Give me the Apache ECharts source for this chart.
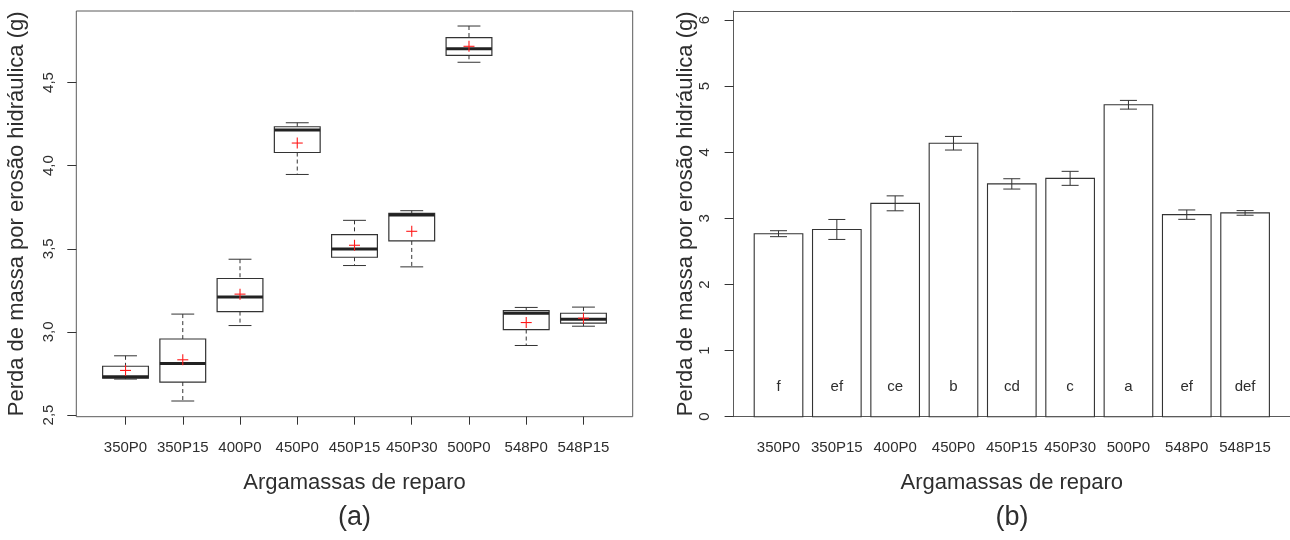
<!DOCTYPE html>
<html>
<head>
<meta charset="utf-8">
<script src="https://cdn.jsdelivr.net/npm/echarts@6/dist/echarts.min.js"></script>
<style>
  html, body { margin: 0; padding: 0; background: #fff; }
  #chart { width: 1290px; height: 540px; }
</style>
</head>
<body>
<div id="chart"></div>
<script>
// Repair mortars
const categories = ['350P0', '350P15', '400P0', '450P0', '450P15', '450P30', '500P0', '548P0', '548P15'];

// Box plot statistics (g)
const lowerWhisker = [2.716, 2.584, 3.038, 3.947, 3.399, 3.391, 4.622, 2.918, 3.034];
const firstQuartile = [2.722, 2.698, 3.122, 4.079, 3.449, 3.547, 4.664, 3.014, 3.053];
const medians = [2.730, 2.810, 3.209, 4.215, 3.499, 3.703, 4.704, 3.112, 3.076];
const thirdQuartile = [2.793, 2.957, 3.321, 4.234, 3.585, 3.713, 4.770, 3.128, 3.112];
const upperWhisker = [2.856, 3.107, 3.437, 4.258, 3.671, 3.729, 4.840, 3.147, 3.149];

// Means (red crosses in the box plot, bar heights in the bar chart)
const means = [2.768, 2.832, 3.227, 4.136, 3.521, 3.605, 4.718, 3.056, 3.082];
// Half length of the error bars
const errorHalf = [0.045, 0.151, 0.113, 0.103, 0.078, 0.106, 0.066, 0.071, 0.035];
// Grouping letters
const groupLetters = ['f', 'ef', 'ce', 'b', 'cd', 'c', 'a', 'ef', 'def'];

// Tick labels
const boxYTicks = [2.5, 3.0, 3.5, 4.0, 4.5];
const barYTicks = [0, 1, 2, 3, 4, 5, 6];

const FONT = '"Liberation Sans", Arial, Helvetica, sans-serif';
const TEXT = '#2e2e2e';
const LINE = '#333333';
const FRAME = '#5a5a5a';

const boxPositions = categories.map((c, i) => i + 1);
const barPositions = categories.map((c, i) => 0.7 + 1.2 * i);

const boxData = categories.map((c, i) => [
  boxPositions[i], lowerWhisker[i], firstQuartile[i], medians[i],
  thirdQuartile[i], upperWhisker[i], means[i]
]);
const barData = categories.map((c, i) => [barPositions[i], means[i], errorHalf[i], i]);

function renderBox(params, api) {
  const x = api.value(0);
  const halfW = api.size([0.4, 0])[0];
  const capW = api.size([0.2, 0])[0];
  const p = k => api.coord([x, api.value(k)]);
  const lw = p(1), q1 = p(2), md = p(3), q3 = p(4), uw = p(5), mn = p(6);
  const cx = lw[0];
  const children = [];
  const dashed = { stroke: LINE, lineWidth: 1, lineDash: [4, 3] };
  const solid = { stroke: LINE, lineWidth: 1 };
  children.push({ type: 'line', shape: { x1: cx, y1: uw[1], x2: cx, y2: q3[1] }, style: dashed });
  children.push({ type: 'line', shape: { x1: cx, y1: q1[1], x2: cx, y2: lw[1] }, style: dashed });
  children.push({ type: 'line', shape: { x1: cx - capW, y1: uw[1], x2: cx + capW, y2: uw[1] }, style: solid });
  children.push({ type: 'line', shape: { x1: cx - capW, y1: lw[1], x2: cx + capW, y2: lw[1] }, style: solid });
  children.push({
    type: 'rect',
    shape: { x: cx - halfW, y: q3[1], width: 2 * halfW, height: q1[1] - q3[1] },
    style: { fill: '#fff', stroke: LINE, lineWidth: 1.2 }
  });
  children.push({ type: 'line', shape: { x1: cx - halfW, y1: md[1], x2: cx + halfW, y2: md[1] }, style: { stroke: '#222', lineWidth: 3 } });
  const s = 5.5;
  const red = { stroke: '#ff1a1a', lineWidth: 1.1 };
  children.push({ type: 'line', shape: { x1: cx - s, y1: mn[1], x2: cx + s, y2: mn[1] }, style: red });
  children.push({ type: 'line', shape: { x1: cx, y1: mn[1] - s, x2: cx, y2: mn[1] + s }, style: red });
  return { type: 'group', children };
}

function renderBar(params, api) {
  const x = api.value(0);
  const m = api.value(1);
  const e = api.value(2);
  const idx = api.value(3);
  const halfW = api.size([0.5, 0])[0];
  const capW = api.size([0.175, 0])[0];
  const top = api.coord([x, m]);
  const base = api.coord([x, 0]);
  const hi = api.coord([x, m + e]);
  const lo = api.coord([x, m - e]);
  const lab = api.coord([x, 0.45]);
  const cx = top[0];
  const solid = { stroke: LINE, lineWidth: 1 };
  return {
    type: 'group',
    children: [
      {
        type: 'rect',
        shape: { x: cx - halfW, y: top[1], width: 2 * halfW, height: base[1] - top[1] },
        style: { fill: '#fff', stroke: LINE, lineWidth: 1.1 }
      },
      { type: 'line', shape: { x1: cx, y1: hi[1], x2: cx, y2: lo[1] }, style: solid },
      { type: 'line', shape: { x1: cx - capW, y1: hi[1], x2: cx + capW, y2: hi[1] }, style: solid },
      { type: 'line', shape: { x1: cx - capW, y1: lo[1], x2: cx + capW, y2: lo[1] }, style: solid },
      {
        type: 'text',
        x: lab[0], y: lab[1],
        style: {
          text: groupLetters[idx], fill: TEXT, font: '15px ' + FONT,
          align: 'center', verticalAlign: 'middle'
        }
      }
    ]
  };
}

const chart = echarts.init(document.getElementById('chart'), null, { renderer: 'canvas', width: 1290, height: 540 });

const labelStyle = { color: TEXT, fontFamily: FONT, fontSize: 15 };
const nameStyle = { color: TEXT, fontFamily: FONT, fontSize: 22 };
const frameLine = { show: true, onZero: false, lineStyle: { color: FRAME, width: 1 } };

chart.setOption({
  backgroundColor: '#fff',
  animation: false,
  grid: [
    { left: 76.3, top: 11, width: 556.4, height: 405.7, show: true, borderColor: FRAME, borderWidth: 1, backgroundColor: 'transparent' },
    // open on the right: top, left and bottom edges come from the axis lines
    { left: 733.6, top: 11, width: 556.4, height: 405.7, show: false }
  ],
  xAxis: [
    {
      gridIndex: 0, type: 'value', min: 0.14, max: 9.86,
      name: 'Argamassas de reparo', nameLocation: 'middle', nameGap: 55, nameTextStyle: nameStyle,
      axisLine: { show: false },
      axisTick: { show: true, length: 8, customValues: boxPositions, lineStyle: { color: LINE } },
      axisLabel: {
        show: true, margin: 24, customValues: boxPositions, ...labelStyle,
        formatter: v => categories[Math.round(v) - 1]
      },
      splitLine: { show: false }
    },
    {
      gridIndex: 1, type: 'value', min: -0.224, max: 11.224,
      name: 'Argamassas de reparo', nameLocation: 'middle', nameGap: 55, nameTextStyle: nameStyle,
      axisLine: frameLine,
      axisTick: { show: false },
      axisLabel: {
        show: true, margin: 24, customValues: barPositions, ...labelStyle,
        formatter: v => categories[Math.round((v - 0.7) / 1.2)]
      },
      splitLine: { show: false }
    },
    {
      gridIndex: 1, type: 'value', position: 'top', min: -0.224, max: 11.224,
      axisLine: frameLine, axisTick: { show: false }, axisLabel: { show: false }, splitLine: { show: false }
    }
  ],
  yAxis: [
    {
      gridIndex: 0, type: 'value', min: 2.4896, max: 4.9304,
      name: 'Perda de massa por erosão hidráulica (g)', nameLocation: 'middle', nameRotate: 90, nameGap: 48,
      nameTextStyle: nameStyle,
      axisLine: { show: false },
      axisTick: { show: true, length: 9, customValues: boxYTicks, lineStyle: { color: LINE } },
      axisLabel: {
        show: true, rotate: 90, margin: 20, customValues: boxYTicks, ...labelStyle,
        formatter: v => v.toFixed(1).replace('.', ',')
      },
      splitLine: { show: false }
    },
    {
      gridIndex: 1, type: 'value', min: 0, max: 6.136,
      name: 'Perda de massa por erosão hidráulica (g)', nameLocation: 'middle', nameRotate: 90, nameGap: 35,
      nameTextStyle: nameStyle,
      axisLine: frameLine,
      axisTick: { show: true, length: 9, customValues: barYTicks, lineStyle: { color: LINE } },
      axisLabel: {
        show: true, rotate: 90, margin: 21, customValues: barYTicks, ...labelStyle,
        formatter: v => String(Math.round(v))
      },
      splitLine: { show: false }
    }
  ],
  series: [
    {
      type: 'custom', xAxisIndex: 0, yAxisIndex: 0,
      renderItem: renderBox, data: boxData, clip: false,
      encode: { x: 0, y: [1, 2, 3, 4, 5, 6] }
    },
    {
      type: 'custom', xAxisIndex: 1, yAxisIndex: 1,
      renderItem: renderBar, data: barData, clip: false,
      encode: { x: 0, y: 1 }
    }
  ],
  graphic: [
    { type: 'text', x: 354.5, y: 518, style: { text: '(a)', font: '27px ' + FONT, fill: TEXT, align: 'center', verticalAlign: 'middle' } },
    { type: 'text', x: 1012, y: 518, style: { text: '(b)', font: '27px ' + FONT, fill: TEXT, align: 'center', verticalAlign: 'middle' } }
  ]
});
</script>
</body>
</html>
